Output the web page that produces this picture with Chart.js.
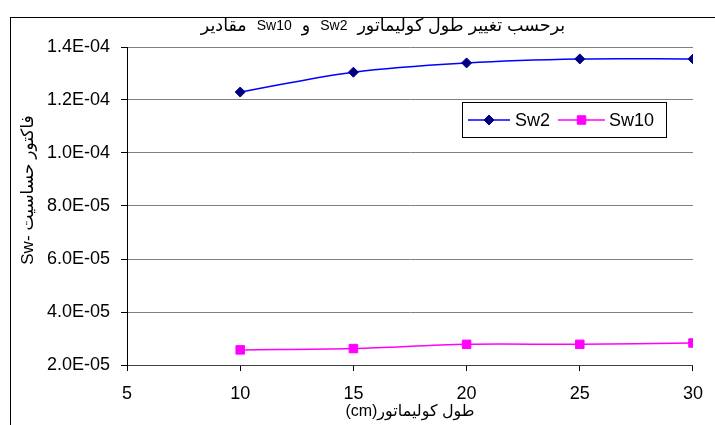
<!DOCTYPE html>
<html>
<head>
<meta charset="utf-8">
<script src="https://cdn.jsdelivr.net/npm/chart.js@4/dist/chart.umd.min.js"></script>
<style>
  html, body { margin: 0; padding: 0; background: #fff; }
  canvas { display: block; }
</style>
</head>
<body>
<canvas id="c" width="715" height="425"></canvas>
<script>
// Collimator length (cm) and sensitivity factors
const lengths = [10, 15, 20, 25, 30];
const sw2 = [1.23e-4, 1.305e-4, 1.34e-4, 1.355e-4, 1.355e-4];
const sw10 = [2.57e-5, 2.62e-5, 2.78e-5, 2.78e-5, 2.83e-5];
const seriesNames = ['Sw2', 'Sw10'];

// Axis ticks and labels
const xTicks = [5, 10, 15, 20, 25, 30];
const yTicks = [2e-5, 4e-5, 6e-5, 8e-5, 1.0e-4, 1.2e-4, 1.4e-4];
// Heading pieces, laid out left to right
const titleParts = ['مقادیر', 'Sw10', 'و', 'Sw2', 'برحسب تغییر طول کولیماتور'];
const xTitle = '(cm)طول کولیماتور';
const yTitleParts = ['Sw-', 'فاکتور حساسیت'];

const FONT = "'Liberation Sans', Arial, 'DejaVu Sans', sans-serif";
Chart.defaults.font.family = FONT;
Chart.defaults.color = '#000';

// 1.4E-04 style labels
function sci(v) {
  const [m, e] = v.toExponential(1).split('e');
  const n = parseInt(e, 10);
  return m + 'E' + (n < 0 ? '-' : '+') + String(Math.abs(n)).padStart(2, '0');
}

const isLatin = s => /^[\x20-\x7e]+$/.test(s);

// Draws mixed-script pieces left to right, centred on cx
function drawPieces(ctx, parts, cx, cy, latinSize, arabicSize, gap) {
  const fontFor = s => (isLatin(s) ? latinSize : arabicSize) + 'px ' + FONT;
  const widths = parts.map(s => { ctx.font = fontFor(s); return ctx.measureText(s).width; });
  const total = widths.reduce((a, b) => a + b, 0) + gap * (parts.length - 1);
  let x = cx - total / 2;
  ctx.textAlign = 'left';
  ctx.textBaseline = 'middle';
  parts.forEach((s, i) => {
    ctx.font = fontFor(s);
    ctx.fillText(s, x, cy);
    x += widths[i] + gap;
  });
}

// Outer frame and white background
const framePlugin = {
  id: 'frame',
  beforeDraw(chart) {
    const ctx = chart.ctx;
    ctx.save();
    ctx.fillStyle = '#fff';
    ctx.fillRect(0, 0, chart.width, chart.height);
    ctx.strokeStyle = '#000';
    ctx.lineWidth = 1;
    ctx.strokeRect(10.5, 17.5, chart.width + 50, chart.height + 50);
    ctx.restore();
  }
};

// Chart heading and vertical axis caption
const captionsPlugin = {
  id: 'captions',
  afterDraw(chart) {
    const ctx = chart.ctx;
    const area = chart.chartArea;
    ctx.save();
    ctx.fillStyle = '#000';
    drawPieces(ctx, titleParts, 383, 26, 14, 17.5, 10);

    ctx.translate(28, (area.top + area.bottom) / 2 - 16);
    ctx.rotate(-Math.PI / 2);
    drawPieces(ctx, yTitleParts, 0, 0, 17, 17, 5);
    ctx.restore();
  }
};

function drawMarker(ctx, style, x, y, r, fill, stroke) {
  ctx.beginPath();
  if (style === 'rectRot') {
    ctx.moveTo(x - r, y); ctx.lineTo(x, y - r); ctx.lineTo(x + r, y); ctx.lineTo(x, y + r);
  } else {
    const s = r * Math.SQRT1_2;
    ctx.rect(x - s, y - s, 2 * s, 2 * s);
  }
  ctx.closePath();
  ctx.fillStyle = fill; ctx.fill();
  ctx.strokeStyle = stroke; ctx.lineWidth = 1; ctx.stroke();
}

// Line-and-marker legend in a boxed frame
const boxLegendPlugin = {
  id: 'boxLegend',
  afterDraw(chart) {
    const ctx = chart.ctx;
    const box = { x: 462, y: 102, w: 204, h: 35 };
    ctx.save();
    ctx.fillStyle = '#fff';
    ctx.fillRect(box.x, box.y, box.w, box.h);
    ctx.strokeStyle = '#000';
    ctx.lineWidth = 1;
    ctx.strokeRect(box.x + 0.5, box.y + 0.5, box.w, box.h);
    const cy = box.y + 18;
    const entries = [{ x0: 468, x1: 510, tx: 515 }, { x0: 558, x1: 605, tx: 609 }];
    ctx.font = '18px ' + FONT;
    ctx.textBaseline = 'middle';
    ctx.textAlign = 'left';
    chart.data.datasets.forEach((ds, i) => {
      const e = entries[i];
      ctx.strokeStyle = ds.borderColor;
      ctx.lineWidth = ds.borderWidth;
      ctx.beginPath();
      ctx.moveTo(e.x0, cy); ctx.lineTo(e.x1, cy);
      ctx.stroke();
      drawMarker(ctx, ds.pointStyle, (e.x0 + e.x1) / 2, cy, ds.pointRadius,
        ds.pointBackgroundColor, ds.pointBorderColor);
      ctx.fillStyle = '#000';
      ctx.fillText(ds.label, e.tx, cy + 1);
    });
    ctx.restore();
  }
};

new Chart(document.getElementById('c'), {
  type: 'line',
  data: {
    datasets: [
      {
        label: seriesNames[0],
        data: lengths.map((x, i) => ({ x, y: sw2[i] })),
        borderColor: '#0000ff',
        borderWidth: 1.5,
        pointStyle: 'rectRot',
        pointRadius: 5,
        pointBackgroundColor: '#000080',
        pointBorderColor: '#000080',
        pointBorderWidth: 1,
        tension: 0.35,
        fill: false
      },
      {
        label: seriesNames[1],
        data: lengths.map((x, i) => ({ x, y: sw10[i] })),
        borderColor: '#ff00ff',
        borderWidth: 1.5,
        pointStyle: 'rect',
        pointRadius: 6,
        pointBackgroundColor: '#ff00ff',
        pointBorderColor: '#ff00ff',
        pointBorderWidth: 1,
        tension: 0.35,
        fill: false
      }
    ]
  },
  options: {
    responsive: false,
    animation: false,
    devicePixelRatio: 1,
    layout: { padding: { top: 47, right: 7, bottom: 0, left: 0 } },
    plugins: {
      legend: { display: false },
      tooltip: { enabled: false },
      title: { display: false }
    },
    scales: {
      x: {
        type: 'linear',
        min: 5,
        max: 30,
        afterBuildTicks(scale) { scale.ticks = xTicks.map(v => ({ value: v })); },
        afterFit(scale) { scale.height = 60; },
        grid: { drawOnChartArea: false, drawTicks: true, tickLength: 6, tickColor: '#000' },
        border: { color: '#404040', width: 1 },
        ticks: { font: { size: 18 }, padding: 12, maxRotation: 0, autoSkip: false },
        title: {
          display: true,
          text: xTitle,
          font: { size: 16 },
          padding: { top: 0, bottom: 4 }
        }
      },
      y: {
        type: 'linear',
        min: 2e-5,
        max: 1.4e-4,
        afterBuildTicks(scale) { scale.ticks = yTicks.map(v => ({ value: v })); },
        afterFit(scale) { scale.width = 127; },
        grid: { color: '#808080', lineWidth: 1, drawTicks: true, tickLength: 6, tickColor: '#000' },
        border: { color: '#000', width: 1 },
        ticks: { font: { size: 18 }, padding: 11, callback: v => sci(v), autoSkip: false },
        title: { display: false }
      }
    }
  },
  plugins: [framePlugin, captionsPlugin, boxLegendPlugin]
});
</script>
</body>
</html>
